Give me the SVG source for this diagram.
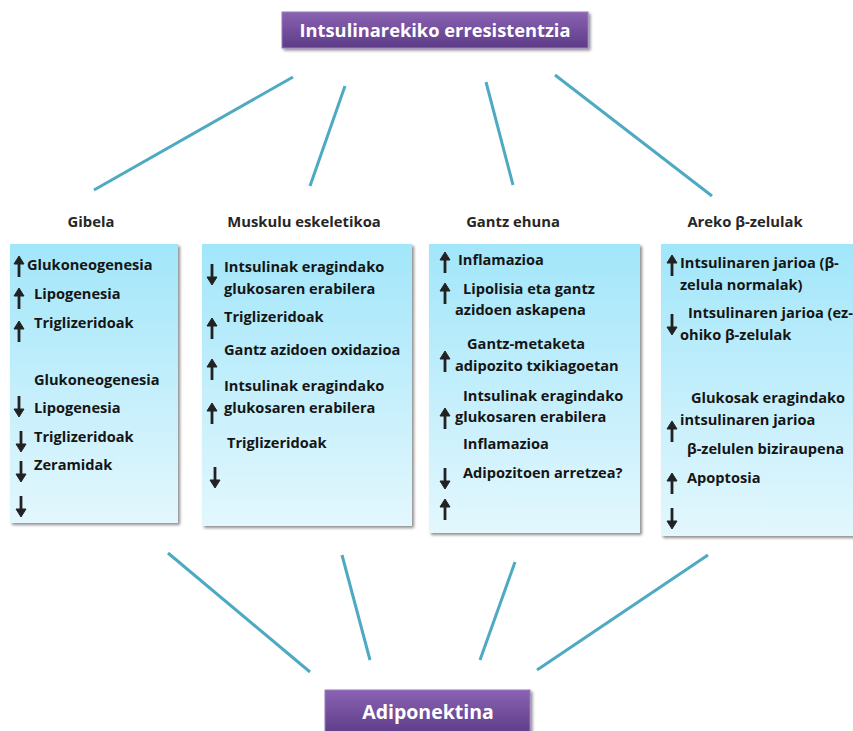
<svg xmlns="http://www.w3.org/2000/svg" width="853" height="731" viewBox="0 0 853 731">
  <defs>
    <linearGradient id="purple" x1="0" y1="0" x2="0" y2="1">
      <stop offset="0" stop-color="#8a63b3"/>
      <stop offset="1" stop-color="#5d3b87"/>
    </linearGradient>
    <linearGradient id="panel" x1="0" y1="0" x2="0" y2="1">
      <stop offset="0" stop-color="#a2e6fa"/>
      <stop offset="1" stop-color="#e3f7fd"/>
    </linearGradient>
    <filter id="shadow" x="-10%" y="-10%" width="130%" height="130%">
      <feGaussianBlur in="SourceAlpha" stdDeviation="1.5"/>
      <feOffset dx="1.5" dy="2" result="b"/>
      <feComponentTransfer><feFuncA type="linear" slope="0.45"/></feComponentTransfer>
      <feMerge><feMergeNode/><feMergeNode in="SourceGraphic"/></feMerge>
    </filter>
    <!-- up arrow, 22px tall, origin at top centre -->
    <g id="up">
      <path d="M0 1 L-5 9 L5 9 Z" fill="#222" stroke="#222" stroke-width="1" stroke-linejoin="round"/>
      <line x1="0" y1="7" x2="0" y2="22" stroke="#222" stroke-width="2.8"/>
    </g>
    <g id="down">
      <path d="M0 21 L-5 13 L5 13 Z" fill="#222" stroke="#222" stroke-width="1" stroke-linejoin="round"/>
      <line x1="0" y1="0" x2="0" y2="15" stroke="#222" stroke-width="2.8"/>
    </g>
  </defs>
  <style>
    .conn { stroke: #4eaac2; stroke-width: 3; fill: none; }
    .hdr { font-family: "Open Sans", "Noto Sans", sans-serif; font-weight: bold; fill: #ffffff; text-anchor: middle; }
    .ttl { font-family: "Open Sans", "Noto Sans", sans-serif; font-weight: bold; font-size: 14.8px; fill: #262626; text-anchor: middle; }
    .it { font-family: "Open Sans", "Noto Sans", sans-serif; font-weight: bold; font-size: 14.6px; fill: #151515; }
    .panel { fill: url(#panel); }
  </style>

  <rect width="853" height="731" fill="#ffffff"/>

  <!-- connectors -->
  <g id="connectors">
    <line class="conn" x1="293" y1="77" x2="94" y2="190"/>
    <line class="conn" x1="345" y1="86" x2="310" y2="186"/>
    <line class="conn" x1="486" y1="82" x2="513" y2="185"/>
    <line class="conn" x1="555" y1="75" x2="712" y2="196"/>
    <line class="conn" x1="168" y1="553" x2="310" y2="672"/>
    <line class="conn" x1="342" y1="555" x2="370" y2="660"/>
    <line class="conn" x1="515" y1="562" x2="480" y2="660"/>
    <line class="conn" x1="708" y1="555" x2="537" y2="670"/>
  </g>

  <!-- top node -->
  <g id="node-intsulina">
    <rect x="282" y="12" width="306" height="36" fill="url(#purple)" stroke="#9a7cc0" stroke-width="1" filter="url(#shadow)"/>
    <text class="hdr" x="435" y="37" font-size="18.3">Intsulinarekiko erresistentzia</text>
  </g>

  <!-- bottom node -->
  <g id="node-adiponektina">
    <rect x="325" y="690" width="205" height="45" fill="url(#purple)" stroke="#9a7cc0" stroke-width="1" filter="url(#shadow)"/>
    <text class="hdr" x="428" y="719" font-size="19.5">Adiponektina</text>
  </g>

  <!-- Gibela -->
  <g id="node-gibela">
    <text class="ttl" x="91" y="227">Gibela</text>
    <rect class="panel" x="10" y="244" width="168" height="279" filter="url(#shadow)"/>
    <use href="#up" x="19" y="255"/>
    <use href="#up" x="19" y="287"/>
    <use href="#up" x="19" y="320"/>
    <use href="#down" x="19" y="396"/>
    <use href="#down" x="21" y="431"/>
    <use href="#down" x="21" y="461"/>
    <use href="#down" x="21" y="496"/>
    <text class="it" x="27" y="270">Glukoneogenesia</text>
    <text class="it" x="34" y="299">Lipogenesia</text>
    <text class="it" x="34" y="328">Triglizeridoak</text>
    <text class="it" x="34" y="385">Glukoneogenesia</text>
    <text class="it" x="34" y="413">Lipogenesia</text>
    <text class="it" x="34" y="442">Triglizeridoak</text>
    <text class="it" x="34" y="470">Zeramidak</text>
  </g>

  <!-- Muskulu eskeletikoa -->
  <g id="node-muskulu">
    <text class="ttl" x="304" y="227">Muskulu eskeletikoa</text>
    <rect class="panel" x="202" y="244" width="210" height="282" filter="url(#shadow)"/>
    <use href="#down" x="212" y="264"/>
    <use href="#up" x="212" y="317"/>
    <use href="#up" x="212" y="358"/>
    <use href="#up" x="212" y="402"/>
    <use href="#down" x="215" y="467"/>
    <text class="it" x="224" y="272">Intsulinak eragindako</text>
    <text class="it" x="224" y="294">glukosaren erabilera</text>
    <text class="it" x="224" y="322">Triglizeridoak</text>
    <text class="it" x="224" y="355">Gantz azidoen oxidazioa</text>
    <text class="it" x="224" y="391">Intsulinak eragindako</text>
    <text class="it" x="224" y="413">glukosaren erabilera</text>
    <text class="it" x="227" y="448">Triglizeridoak</text>
  </g>

  <!-- Gantz ehuna -->
  <g id="node-gantz">
    <text class="ttl" x="513" y="227">Gantz ehuna</text>
    <rect class="panel" x="429" y="244" width="211" height="289" filter="url(#shadow)"/>
    <use href="#up" x="445" y="251"/>
    <use href="#up" x="445" y="282"/>
    <use href="#up" x="445" y="350"/>
    <use href="#up" x="445" y="407"/>
    <use href="#down" x="445" y="468"/>
    <use href="#up" x="445" y="498"/>
    <text class="it" x="458" y="265">Inflamazioa</text>
    <text class="it" x="463" y="294">Lipolisia eta gantz</text>
    <text class="it" x="455" y="315">azidoen askapena</text>
    <text class="it" x="467" y="349">Gantz-metaketa</text>
    <text class="it" x="455" y="371">adipozito txikiagoetan</text>
    <text class="it" x="463" y="401">Intsulinak eragindako</text>
    <text class="it" x="455" y="422">glukosaren erabilera</text>
    <text class="it" x="463" y="449">Inflamazioa</text>
    <text class="it" x="463" y="478">Adipozitoen arretzea?</text>
  </g>

  <!-- Areko beta-zelulak -->
  <g id="node-areko">
    <text class="ttl" x="745" y="227">Areko β-zelulak</text>
    <rect class="panel" x="661" y="244" width="200" height="292" filter="url(#shadow)"/>
    <use href="#up" x="672" y="254"/>
    <use href="#down" x="672" y="314"/>
    <use href="#up" x="672" y="420"/>
    <use href="#up" x="672" y="472"/>
    <use href="#down" x="672" y="508"/>
    <text class="it" x="680" y="268">Intsulinaren jarioa (β-</text>
    <text class="it" x="680" y="290">zelula normalak)</text>
    <text class="it" x="688" y="318">Intsulinaren jarioa (ez-</text>
    <text class="it" x="680" y="340">ohiko β-zelulak</text>
    <text class="it" x="691" y="403">Glukosak eragindako</text>
    <text class="it" x="680" y="425">intsulinaren jarioa</text>
    <text class="it" x="687" y="454">β-zelulen biziraupena</text>
    <text class="it" x="687" y="483">Apoptosia</text>
  </g>
</svg>
